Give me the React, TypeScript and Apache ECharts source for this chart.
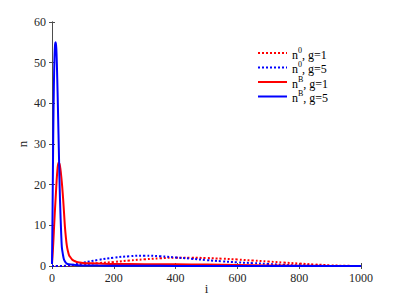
import React, { useEffect, useRef } from "react";
import * as echarts from "echarts";

// n^0, g=1 (red dotted)
const n0g1I = [0, 50, 75, 100, 150, 200, 250, 300, 350, 400, 450, 500, 550, 600, 650, 700, 750, 800, 850, 900, 950, 1000];
const n0g1N = [0, 0.05, 0.2, 0.4, 0.7, 1.0, 1.35, 1.65, 1.9, 2.05, 2.05, 1.95, 1.8, 1.6, 1.35, 1.1, 0.85, 0.6, 0.38, 0.17, 0.05, 0];
// n^0, g=5 (blue dotted)
const n0g5I = [0, 25, 50, 75, 100, 150, 200, 250, 300, 350, 400, 450, 500, 550, 600, 650, 700, 750, 800, 850, 900, 1000];
const n0g5N = [0, 0, 0.1, 0.4, 0.8, 1.5, 2.05, 2.4, 2.55, 2.4, 2.1, 1.8, 1.45, 1.15, 0.9, 0.7, 0.5, 0.3, 0.15, 0.07, 0.02, 0];
// n^B, g=1 (red solid)
const nBg1I = [0, 3, 6, 9, 12, 15, 18, 21, 24, 27, 30, 33, 36, 39, 42, 45, 48, 51, 55, 60, 65, 70, 80, 90, 100, 125, 150, 200, 300, 400, 500, 600, 700, 800, 900, 1000];
const nBg1N = [0.5, 4, 8.5, 13, 17, 21, 24, 25.4, 25.2, 24, 22, 19.5, 16.5, 13, 9.5, 7, 5, 3.8, 2.7, 2.1, 1.6, 1.3, 1.0, 0.85, 0.75, 0.65, 0.6, 0.5, 0.45, 0.4, 0.35, 0.25, 0.15, 0.08, 0.03, 0];
// n^B, g=5 (blue solid)
const nBg5I = [0, 2, 4, 6, 8, 10, 12, 14, 16, 18, 20, 22, 24, 26, 28, 30, 32, 35, 38, 42, 46, 50, 60, 80, 100, 150, 200, 300, 400, 600, 800, 1000];
const nBg5N = [0.5, 15, 32, 44, 51, 54.5, 55, 53.5, 49, 43, 36, 29, 22, 16, 11.5, 7.5, 4.5, 3, 1.8, 1.1, 0.7, 0.5, 0.35, 0.2, 0.15, 0.1, 0.08, 0.05, 0.03, 0.02, 0.01, 0];

const legendNames = ["n0, g=1", "n0, g=5", "nB, g=1", "nB, g=5"];
const legendRich: Record<string, string> = {
  "n0, g=1": "{b|n}{s|0}{b|, g=1}",
  "n0, g=5": "{b|n}{s|0}{b|, g=5}",
  "nB, g=1": "{b|n}{s|B}{b|, g=1}",
  "nB, g=5": "{b|n}{s|B}{b|, g=5}",
};

const pairs = (xs: number[], ys: number[]) => xs.map((x, k) => [x, ys[k]]);

const FONT = "Liberation Serif";
const AXIS_COLOR = "#4d4d4d";
const LABEL_COLOR = "#262626";

export default function App() {
  const ref = useRef<HTMLDivElement>(null);
  useEffect(() => {
    if (!ref.current) return;
    document.body.style.margin = "0";
    document.body.style.overflow = "hidden";
    const chart = echarts.init(ref.current, undefined, { renderer: "svg" });
    const axisCommon = {
      axisLine: { show: true, lineStyle: { color: AXIS_COLOR, width: 1 } },
      axisTick: { show: true, inside: true, length: 3, lineStyle: { color: AXIS_COLOR } },
      splitLine: { show: false },
    };
    chart.setOption({
      animation: false,
      backgroundColor: "#fff",
      textStyle: { fontFamily: FONT },
      grid: { left: 52, right: 38, top: 22, bottom: 33, containLabel: false, outerBoundsMode: "none" },
      legend: {
        data: legendNames,
        orient: "vertical",
        left: 252,
        top: 41,
        itemWidth: 29,
        itemHeight: 2,
        itemGap: 0,
        itemStyle: { opacity: 0 },
        formatter: (name: string) => legendRich[name] || name,
        textStyle: {
          fontFamily: FONT,
          color: "#000",
          rich: {
            b: { fontFamily: FONT, fontSize: 12, color: "#000", padding: [3, 0, 0, 0] },
            s: { fontFamily: FONT, fontSize: 8, color: "#000", padding: [0, 0, 6, 0] },
          },
        },
      },
      xAxis: [
        {
          type: "value",
          min: 0,
          max: 1000,
          interval: 200,
          name: "i",
          nameLocation: "middle",
          nameGap: 16,
          nameMoveOverlap: false,
          nameTextStyle: { fontFamily: FONT, fontSize: 13, color: LABEL_COLOR },
          axisLabel: { fontFamily: FONT, fontSize: 12, color: LABEL_COLOR, margin: 6, formatter: (v: number) => String(v) },
          ...axisCommon,
        },
        {
          type: "value",
          position: "top",
          min: 0,
          max: 1000,
          interval: 200,
          axisLabel: { show: false },
          ...axisCommon,
        },
      ],
      yAxis: [
        {
          type: "value",
          min: 0,
          max: 60,
          interval: 10,
          name: "n",
          nameLocation: "middle",
          nameGap: 23,
          nameMoveOverlap: false,
          nameRotate: 90,
          nameTextStyle: { fontFamily: FONT, fontSize: 13, color: LABEL_COLOR },
          axisLabel: { fontFamily: FONT, fontSize: 12, color: LABEL_COLOR, margin: 6, formatter: (v: number) => String(v) },
          ...axisCommon,
        },
        {
          type: "value",
          position: "right",
          min: 0,
          max: 60,
          interval: 10,
          axisLabel: { show: false },
          ...axisCommon,
        },
      ],
      series: [
        {
          name: legendNames[0],
          type: "line",
          data: pairs(n0g1I, n0g1N),
          showSymbol: false,
          symbol: "none",
          smooth: true,
          lineStyle: { color: "#ff0000", width: 2, type: [2, 2] },
          itemStyle: { color: "#ff0000" },
        },
        {
          name: legendNames[1],
          type: "line",
          data: pairs(n0g5I, n0g5N),
          showSymbol: false,
          symbol: "none",
          smooth: true,
          lineStyle: { color: "#0000ff", width: 2, type: [2, 2] },
          itemStyle: { color: "#0000ff" },
        },
        {
          name: legendNames[2],
          type: "line",
          data: pairs(nBg1I, nBg1N),
          showSymbol: false,
          symbol: "none",
          smooth: 0.3,
          lineStyle: { color: "#ff0000", width: 2 },
          itemStyle: { color: "#ff0000" },
        },
        {
          name: legendNames[3],
          type: "line",
          data: pairs(nBg5I, nBg5N),
          showSymbol: false,
          symbol: "none",
          smooth: 0.3,
          lineStyle: { color: "#0000ff", width: 2 },
          itemStyle: { color: "#0000ff" },
        },
      ],
    });
    return () => chart.dispose();
  }, []);
  return <div ref={ref} style={{ width: 399, height: 299 }} />;
}
